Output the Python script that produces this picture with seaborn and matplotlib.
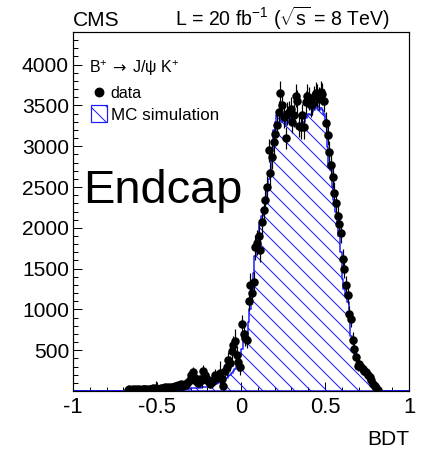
import numpy as np
import pandas as pd
import matplotlib
matplotlib.use("Agg")
import matplotlib.pyplot as plt
import seaborn as sns
from matplotlib.patches import Rectangle
from matplotlib.lines import Line2D
from matplotlib.ticker import MultipleLocator

# ---------------- data ----------------
bin_centers = np.round(np.arange(-0.675, 0.8151, 0.01), 3)   # 150 bins of width 0.01

data_counts = [
    15, 20, 10, 25, 15, 20, 10, 20, 15, 30, 20, 25, 15, 30, 20, 35, 25, 40, 30, 25, 40, 35, 45, 30, 50, 40, 55, 45,
    60, 50, 70, 55, 80, 65, 90, 70, 110, 140,
    200, 230, 160, 120, 100, 150, 130, 245, 200, 150,
    120, 90, 110, 140, 200, 170, 180, 220, 150, 60,
    250, 300, 380, 340, 490, 560, 610, 440, 350, 290,
    820, 700, 650, 630, 1100, 1300, 1200, 1330, 1760, 1820,
    1900, 1730, 2070, 2220, 2340, 2500, 2950, 2670, 2870, 3050,
    3150, 3260, 3420, 3650, 3500, 3360, 3100, 3400, 3420, 3460,
    3300, 3380, 3620, 3550, 3250, 3230, 3380, 3230, 3540, 3620,
    3580, 3500, 3520, 3600, 3650, 3620, 3580, 3660, 3640, 3560,
    3290, 3140, 2930, 2770, 2620, 2430, 2300, 2140, 2050, 1940,
    1620, 1500, 1300, 1180, 940, 880, 630, 510, 415, 305,
    330, 300, 270, 250, 230, 200, 170, 130, 85, 60, 35, 15,
]

data_errors = [
    15, 15, 12, 18, 15, 15, 12, 15, 15, 20, 15, 18, 15, 20, 15, 20, 18, 80, 18, 18, 20, 20, 22, 20, 25, 22, 25, 22,
    25, 22, 30, 25, 30, 28, 35, 30, 40, 45,
    60, 70, 50, 45, 45, 50, 90, 70, 60, 55,
    50, 55, 60, 70, 65, 65, 70, 150, 70, 60,
    80, 120, 100, 90, 110, 120, 150, 110, 100, 100,
    110, 100, 100, 100, 120, 150, 130, 130, 150, 150,
    130, 150, 140, 150, 140, 140, 140, 140, 150, 150,
    140, 140, 140, 150, 140, 140, 140, 140, 140, 140,
    140, 140, 140, 140, 140, 140, 140, 140, 140, 140,
    140, 140, 140, 140, 140, 140, 140, 140, 140, 140,
    130, 130, 130, 130, 130, 130, 130, 130, 130, 130,
    120, 120, 110, 110, 100, 100, 90, 80, 70, 60,
    60, 55, 50, 50, 45, 40, 35, 30, 25, 20, 15, 10,
]

mc_counts = [
    2, 2, 3, 3, 3, 4, 4, 4, 5, 5, 5, 6, 6, 7, 7, 8, 8, 9, 10, 10, 11, 12, 13, 14, 15, 16, 17, 18,
    19, 20, 21, 22, 23, 24, 25, 27, 28, 30,
    32, 34, 36, 38, 40, 42, 44, 46, 48, 50,
    55, 60, 65, 72, 80, 90, 100, 110, 120, 130,
    145, 160, 180, 200, 220, 240, 270, 310, 360, 430,
    520, 620, 720, 700, 850, 1000, 1250, 1450, 1650, 1850,
    1950, 2050, 2150, 2220, 2350, 2460, 2600, 2710, 2950, 3200,
    3300, 3380, 3450, 3380, 3300, 3340, 3250, 3300, 3400, 3360,
    3330, 3300, 3280, 3250, 3230, 3200, 3230, 3300, 3350, 3380,
    3400, 3380, 3420, 3450, 3480, 3500, 3450, 3470, 3440, 3400,
    3320, 2990, 2745, 2710, 2500, 2340, 2200, 2060, 1900, 1700,
    1370, 1250, 1160, 1090, 880, 670, 580, 510, 415, 350,
    320, 300, 290, 270, 250, 220, 180, 140, 80, 50, 20, 8,
]

x_ticks = [-1, -0.5, 0, 0.5, 1]
x_tick_labels = ["-1", "-0.5", "0", "0.5", "1"]
y_ticks = [500, 1000, 1500, 2000, 2500, 3000, 3500, 4000]
y_tick_labels = ["500", "1000", "1500", "2000", "2500", "3000", "3500", "4000"]

assert len(data_counts) == len(bin_centers) == len(mc_counts) == len(data_errors)

df = pd.DataFrame({"bdt": bin_centers, "mc": mc_counts, "data": data_counts, "err": data_errors})

# ---------------- style ----------------
W, H, DPI = 422, 451, 96


def p(px):
    """pixel size -> points at this dpi"""
    return px * 72.0 / DPI


sns.set_style("ticks")
plt.rcParams["font.family"] = ["Liberation Sans", "DejaVu Sans"]
plt.rcParams["mathtext.fontset"] = "custom"
plt.rcParams["mathtext.rm"] = "Liberation Sans"
plt.rcParams["mathtext.it"] = "Liberation Sans:italic"
plt.rcParams["mathtext.sf"] = "Liberation Sans"
plt.rcParams["hatch.linewidth"] = p(1.0)
plt.rcParams["hatch.color"] = "#1a1aff"
for k in ["text.color", "axes.labelcolor", "xtick.color", "ytick.color", "axes.edgecolor"]:
    plt.rcParams[k] = "black"

BLUE = "#1a1aff"

fig = plt.figure(figsize=(W / DPI, H / DPI), dpi=DPI)
ax = fig.add_axes([73 / W, 1 - 391 / H, (409 - 73) / W, (391 - 32) / H])

sns.histplot(data=df, x="bdt", weights="mc", bins=200, binrange=(-1, 1), element="step", fill=True,
             color=BLUE, facecolor="none", edgecolor=BLUE, hatch="\\\\", linewidth=p(1.5),
             ax=ax, zorder=2)

ax.errorbar(df["bdt"], df["data"], yerr=df["err"], fmt="none", ecolor="black",
            elinewidth=p(1.2), capsize=0, zorder=3)
sns.scatterplot(data=df, x="bdt", y="data", color="black", s=p(8.5) ** 2, edgecolor="black",
                linewidth=0, ax=ax, zorder=4)

ax.set_xlim(-1, 1)
ax.set_ylim(0, 4400)
ax.set_xticks(x_ticks)
ax.set_xticklabels(x_tick_labels, fontsize=p(22))
ax.set_yticks(y_ticks)
ax.set_yticklabels(y_tick_labels, fontsize=p(21))
ax.xaxis.set_minor_locator(MultipleLocator(0.1))
ax.yaxis.set_minor_locator(MultipleLocator(100))
ax.tick_params(axis="both", which="major", direction="in", length=p(9), width=p(1.0), color="black",
               labelcolor="black")
ax.tick_params(axis="both", which="minor", direction="in", length=p(4.5), width=p(1.0), color="black")
ax.tick_params(axis="x", which="major", pad=p(6))
ax.tick_params(axis="y", which="major", pad=p(4))
ax.tick_params(top=False, right=False, which="both")
for sp in ax.spines.values():
    sp.set_visible(True)
    sp.set_linewidth(p(1.2))
    sp.set_color("black")
ax.set_xlabel("")
ax.set_ylabel("")

# ---------------- texts ----------------
def fx(px):
    return px / W

def fy(py):
    return 1 - py / H

fig.text(fx(73), fy(26), "CMS", fontsize=p(21), ha="left", va="baseline")
fig.text(fx(175), fy(26), r"L = 20 fb$^{-1}$ ($\sqrt{\mathrm{s}}$ = 8 TeV)", fontsize=p(19.5),
         ha="left", va="baseline")
fig.text(fx(409), fy(445), "BDT", fontsize=p(21), ha="right", va="baseline")
fig.text(fx(83), fy(203), "Endcap", fontsize=p(47), ha="left", va="baseline")

# legend
fig.text(fx(89), fy(73), r"B$^{+}$", fontsize=p(16), ha="left", va="baseline")
fig.text(fx(112), fy(73), "→", fontsize=p(16), ha="left", va="baseline", family=["DejaVu Sans"])
fig.text(fx(132), fy(73), r"J/ψ K$^{+}$", fontsize=p(16), ha="left", va="baseline")
fig.add_artist(Line2D([fx(99)], [fy(92)], marker="o", markersize=p(8.5), color="black",
                      linestyle="none", transform=fig.transFigure))
fig.text(fx(110), fy(98), "data", fontsize=p(16), ha="left", va="baseline")
fig.add_artist(Rectangle((fx(91), fy(122)), 16 / W, 17 / H, transform=fig.transFigure,
                         facecolor="none", edgecolor=BLUE, hatch="\\\\", linewidth=p(1.2)))
fig.text(fx(111), fy(120), "MC simulation", fontsize=p(17), ha="left", va="baseline")

fig.savefig("out.png", dpi=DPI)
